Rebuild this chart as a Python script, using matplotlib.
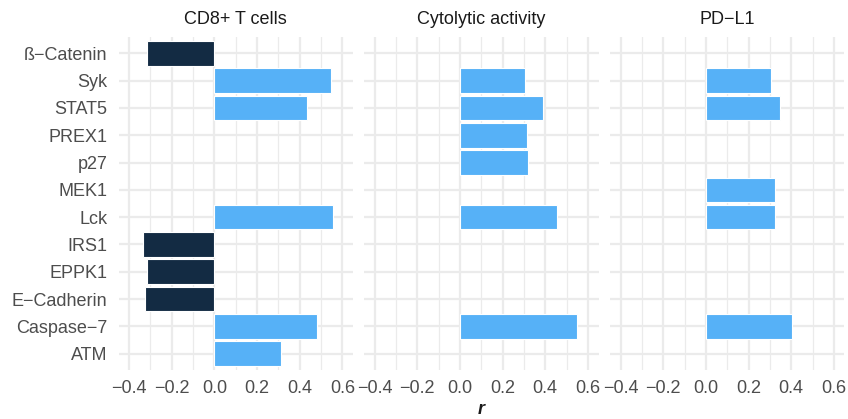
import numpy as np
import matplotlib
matplotlib.use("Agg")
import matplotlib.pyplot as plt
from matplotlib.ticker import FixedLocator, FuncFormatter

plt.rcParams['font.family'] = ['Liberation Sans', 'DejaVu Sans']

# Proteins (top to bottom) and correlation coefficients per immune signature
proteins = ["ß−Catenin", "Syk", "STAT5", "PREX1", "p27", "MEK1", "Lck",
            "IRS1", "EPPK1", "E−Cadherin", "Caspase−7", "ATM"]
panels = ["CD8+ T cells", "Cytolytic activity", "PD−L1"]
nan = np.nan
r_cd8 = [-0.314, 0.549, 0.434, nan, nan, nan, 0.556,
         -0.333, -0.318, -0.325, 0.479, 0.311]
r_cyt = [nan, 0.304, 0.389, 0.315, 0.320, nan, 0.456,
         nan, nan, nan, 0.551, nan]
r_pdl1 = [nan, 0.305, 0.347, nan, nan, 0.324, 0.324,
          nan, nan, nan, 0.405, nan]
series = [r_cd8, r_cyt, r_pdl1]

x_ticks = [-0.4, -0.2, 0.0, 0.2, 0.4, 0.6]
x_minor = [-0.3, -0.1, 0.1, 0.3, 0.5]

NEG = "#132B43"
POS = "#56B1F7"
GRID = "#EBEBEB"
TXT = "#4D4D4D"

W, H = 848, 419
fig = plt.figure(figsize=(W / 100, H / 100), dpi=100)

lefts_px = [118.5, 364.0, 610.0]
width_px = 234.5
top_px, bottom_px = 37.0, 370.0

n = len(proteins)
ypos = np.arange(n)[::-1] + 1  # first protein on top

for i, (title, vals) in enumerate(zip(panels, series)):
    ax = fig.add_axes([lefts_px[i] / W, (H - bottom_px) / H,
                       width_px / W, (bottom_px - top_px) / H])
    vals = np.array(vals, dtype=float)
    mask = ~np.isnan(vals)
    colors = [NEG if v < 0 else POS for v in vals[mask]]
    ax.barh(ypos[mask], vals[mask], height=0.9, color=colors,
            edgecolor="white", linewidth=0.8, zorder=3)

    ax.set_xlim(-0.45, 0.65)
    ax.set_ylim(0.4, n + 0.6)
    ax.xaxis.set_major_locator(FixedLocator(x_ticks))
    ax.xaxis.set_minor_locator(FixedLocator(x_minor))
    ax.xaxis.set_major_formatter(
        FuncFormatter(lambda v, p: f"{v:.1f}".replace("-", "−")))
    ax.set_yticks(ypos)
    if i == 0:
        ax.set_yticklabels(proteins)
    else:
        ax.set_yticklabels([])

    ax.grid(True, which="major", color=GRID, linewidth=1.6, zorder=0)
    ax.grid(True, which="minor", axis="x", color=GRID, linewidth=0.9, zorder=0)
    ax.set_axisbelow(True)
    for s in ax.spines.values():
        s.set_visible(False)
    ax.tick_params(axis="both", which="both", length=0, labelsize=13,
                   labelcolor=TXT)
    ax.tick_params(axis="y", pad=8)
    ax.tick_params(axis="x", pad=7)
    ax.set_facecolor("white")

    cx = (lefts_px[i] + width_px / 2) / W
    fig.text(cx, (H - 19.5) / H, title, ha="center", va="center",
             fontsize=13, color="#1A1A1A")

fig.text(((lefts_px[0] + lefts_px[2] + width_px) / 2) / W, (H - 409) / H, "r",
         ha="center", va="center", fontsize=13, style="italic",
         fontweight="bold", color="#1A1A1A")

fig.savefig("out.png", dpi=100, facecolor="white")
